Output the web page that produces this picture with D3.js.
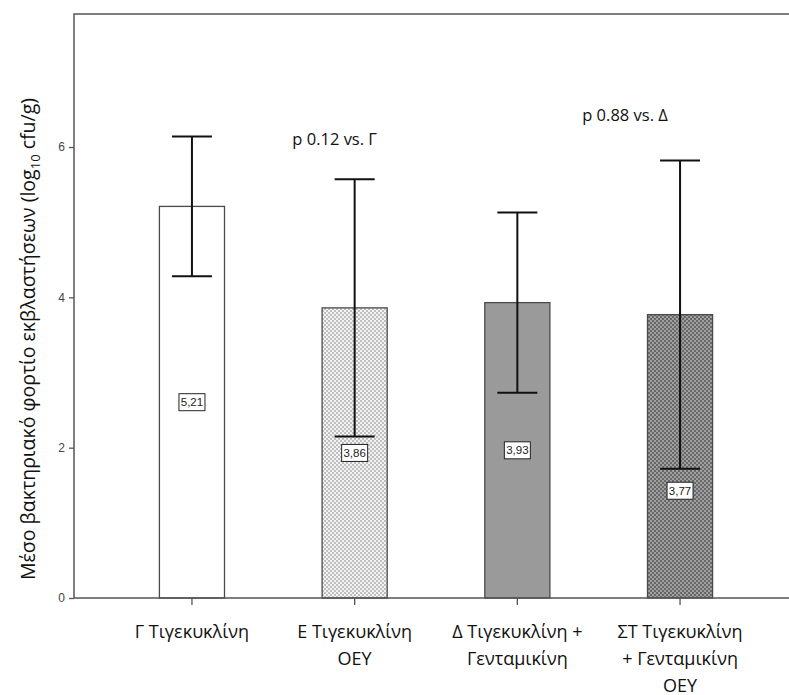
<!DOCTYPE html>
<html>
<head>
<meta charset="utf-8">
<script src="https://cdn.jsdelivr.net/npm/d3@7"></script>
<style>
  body { margin: 0; background: #fff; }
  text { font-family: "Open Sans", "Liberation Sans", sans-serif; }
</style>
</head>
<body>
<svg id="chart" width="789" height="695"></svg>
<script>
// data
var groups = ["G", "E", "D", "ST"]
var tickLabels = [
  ["Γ Τιγεκυκλίνη"],
  ["Ε Τιγεκυκλίνη", "ΟΕΥ"],
  ["Δ Τιγεκυκλίνη +", "Γενταμικίνη"],
  ["ΣΤ Τιγεκυκλίνη", "+ Γενταμικίνη", "ΟΕΥ"]
]
var means = [5.21, 3.86, 3.93, 3.77]
var errs = [0.93, 1.71, 1.20, 2.05]   // half width of the error bars
var fills = ["white", "url(#light)", "#9a9a9a", "url(#dark)"]
var pGroups = ["E", "ST"]
var pTexts = ["p 0.12 vs. Γ", "p 0.88 vs. Δ"]
var pLevels = [6.03, 6.35]
var yTicks = [0, 2, 4, 6]

var svg = d3.select('#chart')
var plotLeft = 74, plotTop = 14, plotBottom = 598

// patterns for the hatched bars
var defs = svg.append('defs')
function checker(id, bg, fg){
  var p = defs.append('pattern').attr('id', id).attr('patternUnits', 'userSpaceOnUse')
    .attr('width', 4).attr('height', 4)
  p.append('rect').attr('width', 4).attr('height', 4).attr('fill', bg)
  p.append('rect').attr('width', 2).attr('height', 2).attr('fill', fg)
  p.append('rect').attr('x', 2).attr('y', 2).attr('width', 2).attr('height', 2).attr('fill', fg)
}
checker('light', '#f2f2f2', '#c0c0c0')
checker('dark', '#a0a0a0', '#686868')

var x = d3.scaleBand().domain(groups).range([plotLeft, 798]).paddingInner(0.6).paddingOuter(0.525)
var y = d3.scaleLinear().domain([0, 7.77]).range([plotBottom, plotTop])

// frame
svg.append('path')
  .attr('d', 'M' + plotLeft + ',' + plotBottom + 'V' + plotTop + 'H800')
  .attr('fill', 'none').attr('stroke', '#555').attr('stroke-width', 1.5)

// bars
svg.selectAll('rect.bar').data(groups).enter().append('rect')
  .attr('class', 'bar')
  .attr('x', d => x(d))
  .attr('width', x.bandwidth())
  .attr('y', (d, i) => y(means[i]))
  .attr('height', (d, i) => plotBottom - y(means[i]))
  .attr('fill', (d, i) => fills[i])
  .attr('stroke', '#4a4a4a').attr('stroke-width', 1.3)

// error bars
var cap = 20
var eb = svg.selectAll('g.err').data(groups).enter().append('g').attr('class', 'err')
  .attr('transform', d => 'translate(' + (x(d) + x.bandwidth() / 2) + ',0)')
eb.append('line')
  .attr('y1', (d, i) => y(means[i] + errs[i])).attr('y2', (d, i) => y(means[i] - errs[i]))
  .attr('stroke', '#111').attr('stroke-width', 2)
eb.append('line')
  .attr('x1', -cap).attr('x2', cap)
  .attr('y1', (d, i) => y(means[i] + errs[i])).attr('y2', (d, i) => y(means[i] + errs[i]))
  .attr('stroke', '#111').attr('stroke-width', 2)
eb.append('line')
  .attr('x1', -cap).attr('x2', cap)
  .attr('y1', (d, i) => y(means[i] - errs[i])).attr('y2', (d, i) => y(means[i] - errs[i]))
  .attr('stroke', '#111').attr('stroke-width', 2)

// value labels, at half bar height unless the lower cap is in the way
var fmt = v => d3.format('.2f')(v).replace('.', ',')
var lab = eb.append('g')
  .attr('transform', function(d, i){
    var cy = y(means[i] / 2), capY = y(means[i] - errs[i])
    if (Math.abs(cy - capY) < 15) cy = capY + 22
    return 'translate(0,' + cy + ')'
  })
lab.append('rect').attr('x', -13).attr('y', -8.5).attr('width', 26).attr('height', 17)
  .attr('fill', 'white').attr('stroke', '#222').attr('stroke-width', 1)
lab.append('text').attr('text-anchor', 'middle').attr('dy', '0.35em')
  .attr('font-size', 11.5).attr('fill', '#222')
  .style('font-family', '"Liberation Sans", Arial, sans-serif')
  .text((d, i) => fmt(means[i]))

// y axis
var yAxis = svg.append('g').attr('transform', 'translate(' + plotLeft + ',0)')
  .call(d3.axisLeft(y).tickValues(yTicks).tickSize(5).tickPadding(4).tickFormat(d3.format('d')))
yAxis.select('.domain').remove()
yAxis.selectAll('line').attr('stroke', '#555').attr('stroke-width', 1.3)
yAxis.selectAll('text').attr('font-size', 12).attr('fill', '#444')
  .style('font-family', '"Liberation Sans", Arial, sans-serif')

// x axis
var xAxis = svg.append('g').attr('transform', 'translate(0,' + plotBottom + ')')
  .call(d3.axisBottom(x).tickSize(7).tickFormat(''))
xAxis.select('.domain').attr('d', 'M' + plotLeft + ',0H800').attr('stroke', '#555').attr('stroke-width', 1.5)
xAxis.selectAll('line').attr('stroke', '#555').attr('stroke-width', 1.3)
xAxis.selectAll('.tick').each(function(d, i){
  var t = d3.select(this).select('text').attr('y', 0).attr('dy', null)
    .attr('font-size', 18).attr('fill', '#111')
  tickLabels[i].forEach(function(line, k){
    t.append('tspan').attr('x', 0).attr('y', 40 + k * 27).text(line)
  })
})

// y title
svg.append('text')
  .attr('transform', 'translate(35,339) rotate(-90)')
  .attr('text-anchor', 'middle').attr('font-size', 19.5).attr('fill', '#111')
  .html('Μέσο βακτηριακό φορτίο εκβλαστήσεων (log<tspan font-size="13" dy="5">10</tspan><tspan dy="-5"> cfu/g)</tspan>')

// p-value notes, set a little left of their bars
var pShift = [-20, -55]
svg.selectAll('text.p').data(pTexts).enter().append('text')
  .attr('class', 'p')
  .attr('x', (d, i) => x(pGroups[i]) + x.bandwidth() / 2 + pShift[i])
  .attr('y', (d, i) => y(pLevels[i]))
  .attr('text-anchor', 'middle').attr('font-size', 16.5).attr('fill', '#111')
  .text(d => d)
</script>
</body>
</html>
